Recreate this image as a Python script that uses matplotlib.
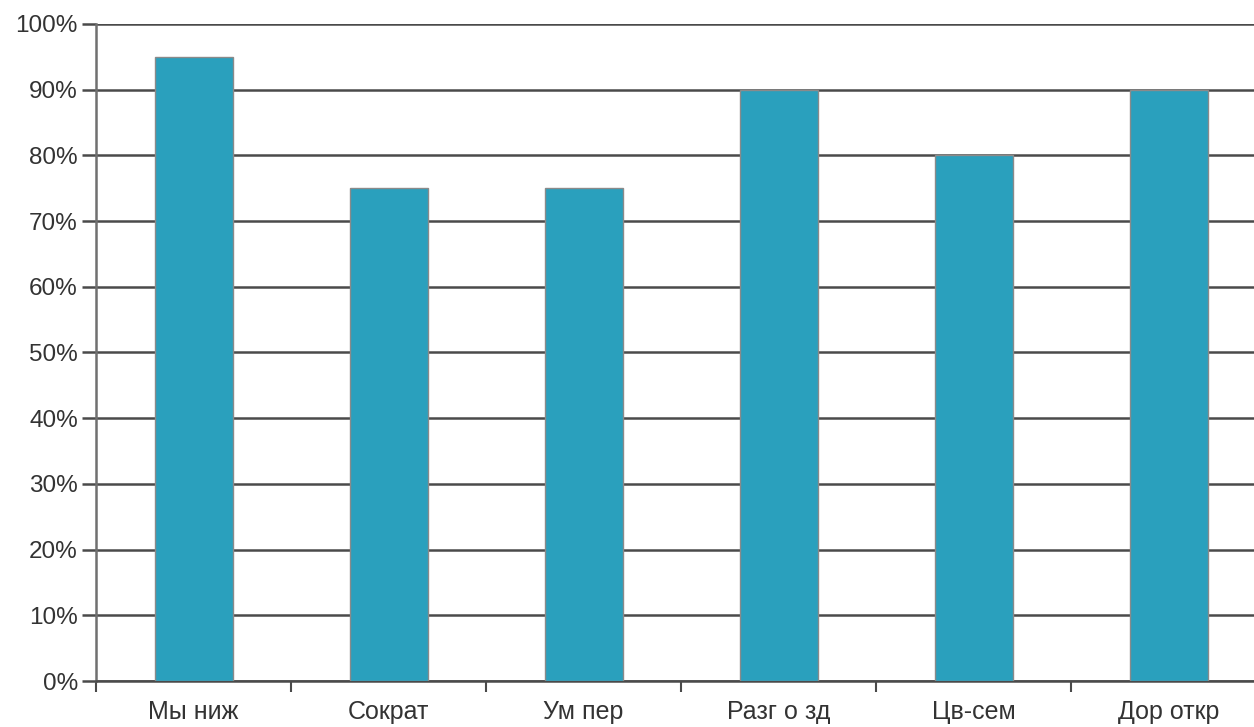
import matplotlib.pyplot as plt
import numpy as np
from matplotlib.ticker import FixedLocator, PercentFormatter

plt.rcParams['font.family'] = ['Liberation Sans', 'DejaVu Sans']

categories = ['Мы ниж', 'Сократ', 'Ум пер', 'Разг о зд', 'Цв-сем', 'Дор откр']
values = [95, 75, 75, 90, 80, 90]
y_ticks = list(range(0, 101, 10))

bar_color = '#2aa0bd'
grid_color = '#4a4a4a'
text_color = '#333333'

fig = plt.figure(figsize=(12.54, 7.27), dpi=100)
ax = fig.add_axes([96 / 1254, 46 / 727, 1170 / 1254, 657 / 727])

x = np.arange(len(categories))
ax.bar(x, values, width=0.4, color=bar_color, edgecolor='#8a8a8a', linewidth=1, zorder=3)

ax.set_xlim(-0.5, len(categories) - 0.5)
ax.set_ylim(0, 100)

ax.set_yticks(y_ticks)
ax.yaxis.set_major_formatter(PercentFormatter(decimals=0))
ax.yaxis.grid(True, color=grid_color, linewidth=1.8, zorder=1)
ax.tick_params(axis='y', length=10, width=1.8, color=grid_color, labelsize=17.5,
               labelcolor=text_color, pad=3)

ax.set_xticks(x)
ax.set_xticklabels(categories)
ax.xaxis.set_minor_locator(FixedLocator(np.arange(-0.5, len(categories), 1.0)))
ax.tick_params(axis='x', which='major', length=0, labelsize=18, labelcolor=text_color, pad=14)
ax.tick_params(axis='x', which='minor', length=8, width=1.5, color=grid_color)

for side in ['top', 'right']:
    ax.spines[side].set_visible(False)
ax.spines['left'].set_color('#707070')
ax.spines['left'].set_linewidth(1.8)
ax.spines['bottom'].set_color(grid_color)
ax.spines['bottom'].set_linewidth(1.8)

fig.savefig('out.png', dpi=100)
